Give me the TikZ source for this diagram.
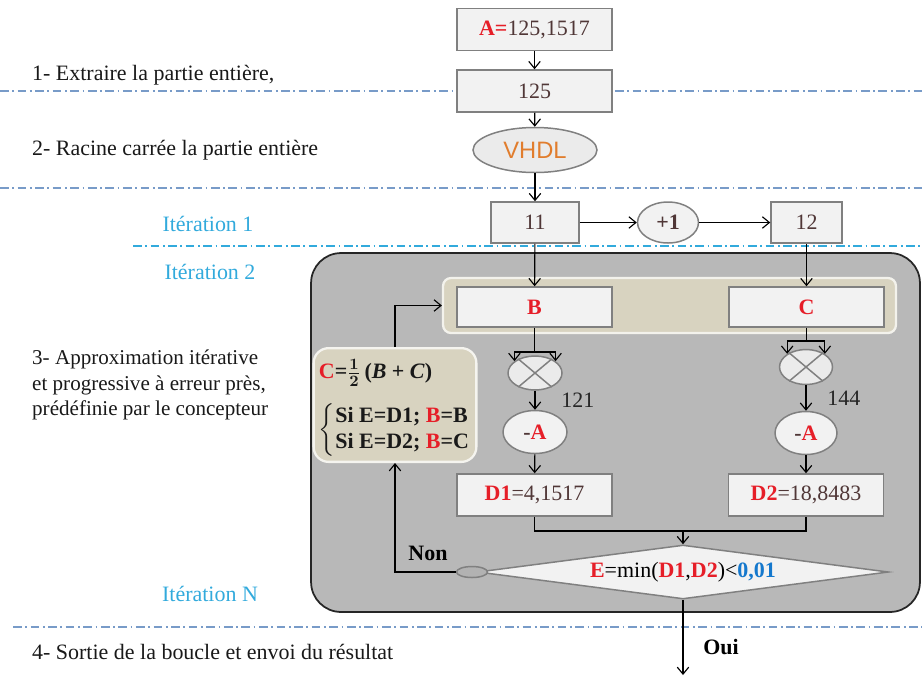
\documentclass[tikz,border=0pt]{standalone}
\usepackage{amsmath,amssymb}
\usepackage{fontspec}
\setmainfont{Liberation Serif}
\newfontfamily\vhdlfont{Liberation Sans}
\usepackage{xcolor}
\usepackage{tikz}
\usetikzlibrary{arrows.meta, positioning, calc, shapes.geometric}

\definecolor{rouge}{RGB}{230,30,40}
\definecolor{bleu}{RGB}{20,120,205}
\definecolor{iter}{RGB}{50,170,220}
\definecolor{tiret}{RGB}{120,155,200}
\definecolor{chiffre}{RGB}{80,55,55}
\definecolor{vhdl}{RGB}{225,125,45}
\definecolor{beige}{RGB}{216,211,192}

\begin{document}
\begin{tikzpicture}[x=0.02cm, y=-0.02cm,
    every node/.style={font=\fontsize{12.5}{15}\selectfont},
    box/.style={draw=black!50, line width=0.85pt, fill=black!5, text=chiffre,
                minimum width=3.1cm, minimum height=0.84cm, inner sep=2pt},
    oval/.style={ellipse, draw=black!50, line width=0.85pt, fill=black!5,
                 text=chiffre, inner sep=0pt},
    mult/.style={oval, fill=black!8, minimum width=1.08cm, minimum height=0.68cm},
    moinsA/.style={oval, minimum width=1.28cm, minimum height=0.86cm},
    edge/.style={-{Straight Barb[length=1.4mm, width=2.3mm]}, line width=0.65pt},
    sep/.style={tiret, line width=0.7pt, dash pattern=on 5pt off 2pt on 1pt off 2pt},
    etape/.style={anchor=west, align=left, text=black!90},
    iterlbl/.style={text=iter, font=\fontsize{12.5}{14}\selectfont}
]
\useasboundingbox (0,0) rectangle (922,677);

% separations
\draw[sep] (0,91) -- (922,91);
\draw[sep] (0,188) -- (922,188);
\draw[sep, iter] (133,246) -- (922,246);
\draw[sep] (13,627) -- (922,627);

% etapes
\node[etape] (e1) at (26,75) {1- Extraire la partie entière,};
\node[etape] (e2) at (26,150) {2- Racine carrée la partie entière};
\node[etape, font=\fontsize{12}{14.5}\selectfont] (e3) at (26,385)
     {3- Approximation itérative\\et progressive à erreur près,\\prédéfinie par le concepteur};
\node[etape] (e4) at (26,652) {4- Sortie de la boucle et envoi du résultat};
\node[iterlbl] (it1) at (208,224) {Itération 1};
\node[iterlbl] (it2) at (210,272) {Itération 2};
\node[iterlbl] (itN) at (210,594) {Itération N};

% boucle
\node[draw=black!85, line width=1pt, fill=black!28, rounded corners=0.6cm,
      minimum width=12.18cm, minimum height=7.18cm] (loop) at (615.5,432.5) {};
\node[draw=white!70!beige, line width=1.3pt, fill=beige, rounded corners=0.16cm,
      minimum width=9.06cm, minimum height=1.1cm] (bc) at (669.5,305.5) {};

% entree
\node[box] (A) at (534.5,29.5) {{\color{rouge}\textbf{A=}}125,1517};
\node[box] (E) at (534.5,91) {125};
\node[oval, fill=black!8, minimum width=2.48cm, minimum height=0.9cm] (V) at (535,150)
     {\vhdlfont\fontsize{13.5}{15}\selectfont\color{vhdl}VHDL};
\node[box, minimum width=1.76cm, minimum height=0.82cm] (R1) at (535,222.5) {11};
\node[oval, minimum width=1.22cm, minimum height=0.82cm] (inc) at (668,222.5) {\textbf{+1}};
\node[box, minimum width=1.42cm, minimum height=0.82cm] (R2) at (806.5,222.5) {12};

\draw[edge] (A) -- (E);
\draw[edge] (E) -- (V);
\draw[edge] (V) -- (R1);
\draw[edge] (R1) -- (inc);
\draw[edge] (inc) -- (R2);

% iteration
\node[box, minimum height=0.8cm] (B) at (534.5,307) {\color{rouge}\textbf{B}};
\node[box, minimum height=0.8cm] (C) at (806.5,307) {\color{rouge}\textbf{C}};
\draw[edge] (R1) -- (B);
\draw[edge] (R2) -- (C);

\node[mult] (m1) at (535,373) {};
\node[mult, minimum width=1.06cm, minimum height=0.7cm] (m2) at (806,367) {};
\foreach \m in {m1,m2}{
  \draw[black!50, line width=0.85pt] (\m.40) -- (\m.220);
  \draw[black!50, line width=0.85pt] (\m.140) -- (\m.-40);
}
\coordinate (fk1) at (534.5,352);
\coordinate (fk2) at (806.5,341);
\draw[line width=0.65pt] (B) -- (fk1);
\draw[edge] (fk1) -| (m1.150);
\draw[edge] (fk1) -| (m1.30);
\draw[line width=0.65pt] (C) -- (fk2);
\draw[edge] (fk2) -| (m2.145);
\draw[edge] (fk2) -| (m2.35);

\node[moinsA] (sA1) at (535,432) {\textbf{-}{\color{rouge}\textbf{A}}};
\node[moinsA, minimum width=1.24cm] (sA2) at (806,433) {\textbf{-}{\color{rouge}\textbf{A}}};
\draw[edge] (m1) -- node[right=0.4cm, text=black!85] {121} (sA1);
\draw[edge] (m2) -- node[right=0.3cm, text=black!85] {144} (sA2);

\node[box] (D1) at (534.5,495) {{\color{rouge}\textbf{D1}}=4,1517};
\node[box] (D2) at (806,495) {{\color{rouge}\textbf{D2}}=18,8483};
\draw[edge] (sA1) -- (D1);
\draw[edge] (sA2) -- (D2);

% test
\node[diamond, aspect=7.6, draw=black!50, line width=0.85pt, fill=black!5, inner sep=0pt,
      minimum width=8.22cm, minimum height=1.08cm] (T) at (683,572)
     {{\color{rouge}\textbf{E}}=min({\color{rouge}\textbf{D1}},{\color{rouge}\textbf{D2}})<{\color{bleu}\textbf{0,01}}};
\coordinate (mg) at (683,531);
\draw[line width=0.65pt] (D1) |- (mg);
\draw[line width=0.65pt] (D2) |- (mg);
\draw[edge] (mg) -- (T);

\node[ellipse, draw=black!50, line width=0.85pt, fill=black!30, inner sep=0pt,
      minimum width=0.62cm, minimum height=0.22cm] (non) at (472,572) {};
\node (nonlbl) at (428,553) {\textbf{Non}};

% regle de mise a jour
\node[draw=white!75!beige, line width=1.3pt, fill=beige, rounded corners=0.3cm,
      minimum width=3.12cm, minimum height=2.24cm, align=left, text=black!90,
      inner sep=3pt] (rule) at (395,405)
     {\rule{0pt}{0.5cm}{\color{rouge}\textbf{C}}\textbf{=}{\boldmath$\frac{1}{2}$}\,\textbf{(\textit{B} + \textit{C})}\\[9pt]
      $\left\{\begin{array}{@{}l@{}}
        \textbf{Si E=D1; {\color{rouge}B}=B}\\
        \textbf{Si E=D2; {\color{rouge}B}=C}
      \end{array}\right.$};
\draw[edge] (non) -| (rule);
\draw[edge] (rule) |- (bc);

% sortie
\coordinate (out) at (683,675);
\draw[edge] (T) -- (out);
\node (ouilbl) at (721,647) {\textbf{Oui}};
\end{tikzpicture}
\end{document}
